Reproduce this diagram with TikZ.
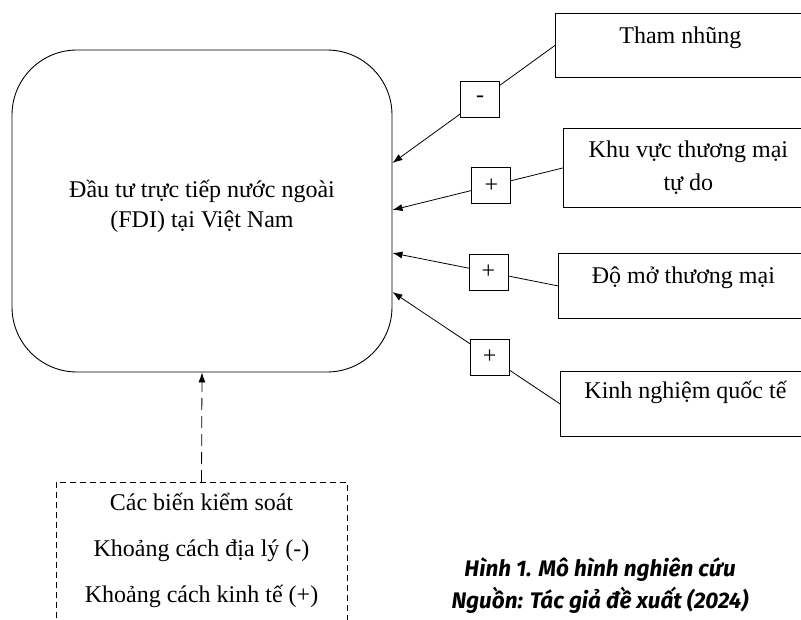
\documentclass[tikz,border=0pt]{standalone}
\usepackage{fontspec}
\setmainfont{Liberation Serif}
\newfontfamily\capfont{Fira Sans}
\usetikzlibrary{positioning,calc,arrows.meta}

\tikzset{
  fdibox/.style={draw, rounded corners=65pt, minimum width=380pt, minimum height=322pt, line width=0.9pt},
  factor/.style={draw, anchor=north west, minimum width=250pt, inner ysep=0pt, line width=0.8pt},
  sign/.style={draw, fill=white, minimum width=39pt, minimum height=36pt, inner sep=0pt, line width=0.8pt},
  link/.style={-{Latex[length=10pt,width=7pt]}, line width=0.8pt},
  ctrlbox/.style={draw, dash pattern=on 6pt off 4pt, anchor=north, minimum width=291pt, inner ysep=0pt, line width=0.8pt}
}

\begin{document}
\begin{tikzpicture}[x=1pt, y=-1pt, font=\fontsize{24}{30}\selectfont]
\useasboundingbox (0,0) rectangle (801,619);
\clip (0,0) rectangle (801,619);
% main box
\node[fdibox, text height=147pt, text depth=175pt, inner ysep=0pt] (fdi) at (202,211) {\begin{tabular}[t]{@{}c@{}}Đầu tư trực tiếp nước ngoài\\(FDI) tại Việt Nam\end{tabular}};
% factors
\node[factor, text height=30pt, text depth=34pt] (tn) at (555,13) {Tham nhũng};
\node[factor, text height=29pt, text depth=50pt] (kv) at (563,128) {\fontsize{24}{33}\selectfont\begin{tabular}[t]{@{}c@{}}Khu vực thương mại\\ tự do\end{tabular}};
\node[factor, text height=30pt, text depth=35pt] (dm) at (558,253) {Độ mở thương mại};
\node[factor, text height=27pt, text depth=38pt] (kn) at (560,371) {Kinh nghiệm quốc tế};
\draw[link] (tn.west) -- node[sign, pos=0.46] (s1) {-} ($(fdi.east)+(0,-48)$);
\draw[link] (kv.west) -- node[sign, pos=0.42] (s2) {+} ($(fdi.east)+(0,-1)$);
\draw[link] (dm.west) -- node[sign, pos=0.42] (s3) {+} ($(fdi.east)+(0,42)$);
\draw[link] (kn.west) -- node[sign, pos=0.42] (s4) {+} ($(fdi.east)+(0,81)$);
% control variables
\node[ctrlbox, text height=28pt, text depth=150pt] (ctrl) at (201.5,482) {\fontsize{24}{46}\selectfont\begin{tabular}[t]{@{}c@{}}Các biến kiểm soát\\ Khoảng cách địa lý (-)\\ Khoảng cách kinh tế (+)\end{tabular}};
\draw[link, dash pattern=on 12pt off 6pt] (ctrl.north) -- (fdi.south);
% caption
\node[font=\capfont\bfseries\itshape\fontsize{22.5}{32}\selectfont, align=center] (cap) at (600,586) {Hình 1. Mô hình nghiên cứu\\Nguồn: Tác giả đề xuất (2024)};
\end{tikzpicture}
\end{document}
